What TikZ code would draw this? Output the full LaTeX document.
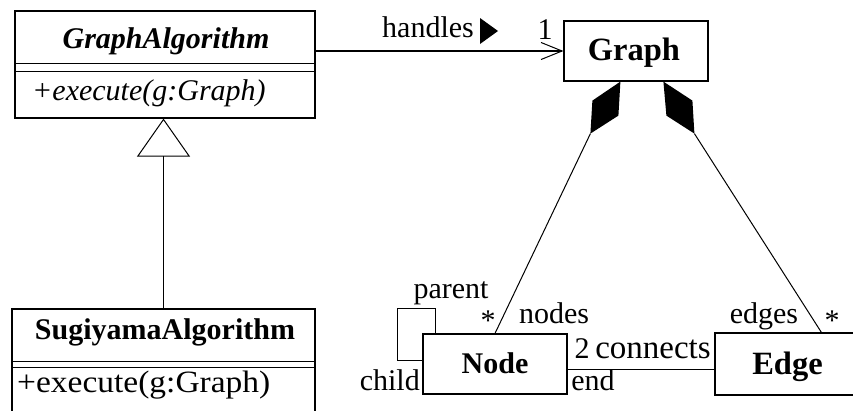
\documentclass[tikz,border=0pt]{standalone}
\usepackage{fontspec}
\setmainfont{Liberation Serif}
\usetikzlibrary{arrows.meta,calc}
\begin{document}
\begin{tikzpicture}[x=1pt,y=-1pt,
  umlbox/.style={draw,rectangle,line width=1.2pt,inner sep=0pt},
  txt/.style={font=\fontsize{30}{36}\selectfont,inner sep=0pt,anchor=base},
  thin/.style={line width=1pt},
  comp/.style={line width=1.2pt}]
\clip (0,0) rectangle (853,410);
\fill[white] (0,0) rectangle (853,410);

% class boxes
\node[umlbox,minimum width=300pt,minimum height=107pt] (ga) at (165,64.5) {};
\node[umlbox,minimum width=144pt,minimum height=60pt] (graph) at (636,51) {};
\node[umlbox,minimum width=303pt,minimum height=111pt] (sug) at (163.5,364.5) {};
\node[umlbox,minimum width=144pt,minimum height=60pt] (node) at (495,364) {};
\node[umlbox,minimum width=144pt,minimum height=62pt] (edge) at (787,364) {};

% compartment separators (double rule)
\draw[comp] ($(ga.north west)+(0,53)$) -- ($(ga.north east)+(0,53)$);
\draw[comp] ($(ga.north west)+(0,61)$) -- ($(ga.north east)+(0,61)$);
\draw[comp] ($(sug.north west)+(0,53)$) -- ($(sug.north east)+(0,53)$);
\draw[comp] ($(sug.north west)+(0,59)$) -- ($(sug.north east)+(0,59)$);

% class names and operations
\node[txt,font=\fontsize{30}{36}\selectfont\bfseries\itshape] (gaName) at (166,48) {GraphAlgorithm};
\node[txt,anchor=base west,font=\fontsize{30}{36}\selectfont\itshape] (gaOp) at (32,100) {+execute(g:Graph)};
\node[txt,font=\fontsize{32.5}{38}\selectfont\bfseries] (graphName) at (634,60) {Graph};
\node[txt,font=\fontsize{30}{36}\selectfont\bfseries] (sugName) at (165,339) {SugiyamaAlgorithm};
\node[txt,anchor=base west,font=\fontsize{31}{37}\selectfont] (sugOp) at (17,392) {\scalebox{1.08}[1]{+execute(g:Graph)}};
\node[txt,font=\fontsize{30}{36}\selectfont\bfseries] (nodeName) at (495,373) {Node};
\node[txt,font=\fontsize{32.5}{38}\selectfont\bfseries] (edgeName) at (787.5,374) {Edge};

% generalization
\draw[line width=1.5pt,-{Triangle[open,length=38pt,width=53pt,line width=1pt]}] (sug.north) -- (sug.north |- ga.south);

% directed association "handles"
\draw[line width=1.5pt,-{Straight Barb[length=21pt,width=17pt,line width=1pt]}] (ga.east |- graph.west) -- (graph.west);
\node[txt] (handles) at (428,37) {handles};
\fill (480,18) -- (498,31) -- (480,44) -- cycle;
\node[txt] (one) at (545,39) {1};

% compositions
\coordinate (dl) at ($(graph.south west)+(57,0)$);
\coordinate (dle) at ($(dl)+(-30,52)$);
\fill (dl) -- ++(-28,19) -- ++(-2,33) -- ++(28,-18) -- cycle;
\draw[thin] (dle) -- (node.north);

\coordinate (dr) at ($(graph.south west)+(100,0)$);
\coordinate (dre) at ($(dr)+(31,52)$);
\coordinate (er) at ($(edge.north west)+(107,0)$);
\fill (dr) -- ++(29,19) -- ++(2,33) -- ++(-28,-18) -- cycle;
\draw[thin] (dre) -- (er);

% association end labels
\node[txt] (starN) at (488,330) {*};
\node[txt] (nodesL) at (554,323) {nodes};
\node[txt] (edgesL) at (764,323) {edges};
\node[txt] (starE) at (832,330) {*};

% self association parent/child
\draw[thin] ([yshift=-27pt]node.north west) -- ++(-25,0) -- ++(0,-52) -- ++(38,0) -- ([xshift=13pt]node.north west);
\node[txt] (parentL) at (451,298) {parent};
\node[txt,anchor=base east] (childL) at (420,390) {child};

% connects
\draw[thin] ([yshift=-5pt]node.east) -- ([yshift=-5pt]node.east -| edge.west);
\node[txt] (two) at (582,358) {2};
\node[txt,font=\fontsize{33}{39}\selectfont] (connectsL) at (653,358) {connects};
\node[txt] (endL) at (593,390) {end};
\end{tikzpicture}
\end{document}
